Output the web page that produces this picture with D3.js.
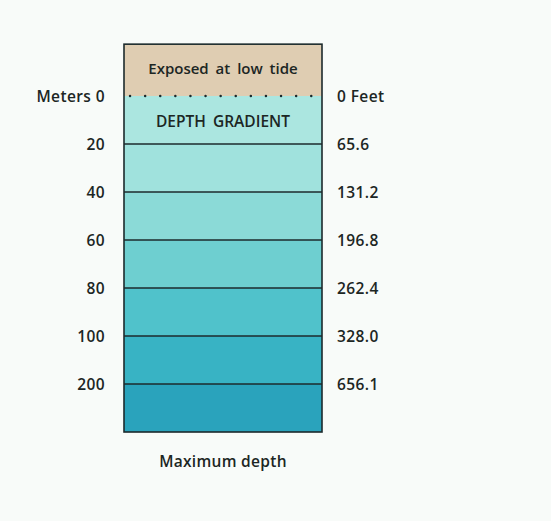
<!DOCTYPE html>
<html>
<head>
<meta charset="utf-8">
<script src="https://cdn.jsdelivr.net/npm/d3@7"></script>
<style>
  html, body { margin: 0; padding: 0; background: #f8fbf9; }
  svg text { font-family: "Open Sans", "Liberation Sans", Arial, sans-serif; font-weight: 600; fill: #1c2624; }
</style>
</head>
<body>
<div id="chart"></div>
<script>
// Depth boundaries (meters on the left, feet on the right)
const metersLabels = ["Meters 0", "20", "40", "60", "80", "100", "200"];
const feetLabels = ["0 Feet", "65.6", "131.2", "196.8", "262.4", "328.0", "656.1"];
// One band below each boundary, the last one down to maximum depth
const bandNames = ["0-20", "20-40", "40-60", "60-80", "80-100", "100-200", "200-max"];
const bandColors = ["#abe6e0", "#a0e2dd", "#8bdad7", "#6ecfd0", "#50c2cb", "#38b3c4", "#2aa3bc"];
const topLabel = "Exposed at low tide";
const gradientLabel = "DEPTH GRADIENT";
const bottomLabel = "Maximum depth";

const width = 551, height = 521;
const box = { left: 124, right: 322 };

const svg = d3.select('#chart')
  .append('svg')
  .attr('width', width)
  .attr('height', height);

// boundary index -> pixel; index 0 is sea level, 7 is the bottom
const y = d3.scaleLinear()
  .domain([0, bandNames.length])
  .range([96, 432]);

const color = d3.scaleOrdinal()
  .domain(bandNames)
  .range(bandColors);

// exposed (tidal) zone above sea level
svg.append('rect')
  .attr('x', box.left)
  .attr('y', y(-1.08))
  .attr('width', box.right - box.left)
  .attr('height', y(0) - y(-1.08))
  .attr('fill', '#dfcdb2');

// depth bands
svg.selectAll('.band')
  .data(bandNames)
  .enter().append('rect')
  .attr('class', 'band')
  .attr('x', box.left)
  .attr('y', (d, i) => y(i))
  .attr('width', box.right - box.left)
  .attr('height', (d, i) => y(i + 1) - y(i))
  .attr('fill', d => color(d));

// boundary lines (sea level is dotted)
svg.selectAll('.boundary')
  .data(d3.range(1, bandNames.length))
  .enter().append('line')
  .attr('class', 'boundary')
  .attr('x1', box.left)
  .attr('x2', box.right)
  .attr('y1', d => y(d))
  .attr('y2', d => y(d))
  .attr('stroke', '#1c2a2c')
  .attr('stroke-width', 1.6);

svg.append('line')
  .attr('x1', box.left + 6)
  .attr('x2', box.right)
  .attr('y1', y(0))
  .attr('y2', y(0))
  .attr('stroke', '#1c2a2c')
  .attr('stroke-width', 2.4)
  .attr('stroke-linecap', 'round')
  .attr('stroke-dasharray', '0.1,15');

// outer frame
svg.append('rect')
  .attr('x', box.left)
  .attr('y', y(-1.08))
  .attr('width', box.right - box.left)
  .attr('height', y(bandNames.length) - y(-1.08))
  .attr('fill', 'none')
  .attr('stroke', '#1c2a2c')
  .attr('stroke-width', 1.6);

// left axis: meters
const leftAxis = svg.append('g')
  .attr('transform', `translate(${box.left},0)`)
  .call(d3.axisLeft(y)
    .tickValues(d3.range(metersLabels.length))
    .tickFormat(i => metersLabels[i])
    .tickSize(0)
    .tickPadding(19));
leftAxis.select('.domain').remove();
leftAxis.selectAll('text')
  .attr('dy', '0.37em')
  .style('font-size', '15.5px')
  .style('letter-spacing', '0.4px')
  .style('fill', '#1c2624');

// right axis: feet
const rightAxis = svg.append('g')
  .attr('transform', `translate(${box.right},0)`)
  .call(d3.axisRight(y)
    .tickValues(d3.range(feetLabels.length))
    .tickFormat(i => feetLabels[i])
    .tickSize(0)
    .tickPadding(15));
rightAxis.select('.domain').remove();
rightAxis.selectAll('text')
  .attr('dy', '0.37em')
  .style('font-size', '15.5px')
  .style('letter-spacing', '0.4px')
  .style('fill', '#1c2624');
// d3 axis sets font-family on the group; let the stylesheet decide
leftAxis.attr('font-family', null);
rightAxis.attr('font-family', null);

const cx = (box.left + box.right) / 2;

svg.append('text')
  .attr('x', cx)
  .attr('y', 74)
  .attr('text-anchor', 'middle')
  .style('font-size', '15px')
  .style('word-spacing', '3px')
  .text(topLabel);

svg.append('text')
  .attr('x', cx)
  .attr('y', 127)
  .attr('text-anchor', 'middle')
  .style('font-size', '15.5px')
  .style('word-spacing', '3px')
  .text(gradientLabel);

svg.append('text')
  .attr('x', cx)
  .attr('y', 467)
  .attr('text-anchor', 'middle')
  .style('font-size', '15.5px')
  .style('letter-spacing', '0.3px')
  .text(bottomLabel);
</script>
</body>
</html>
